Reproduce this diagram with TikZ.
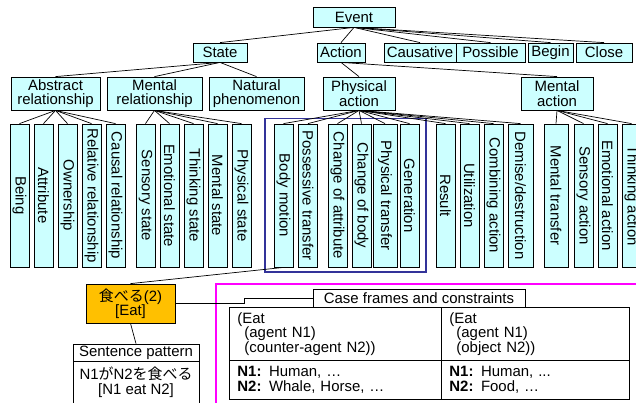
\documentclass[tikz,border=0pt]{standalone}
\usepackage{fontspec}
\setmainfont{Liberation Sans}
\newfontfamily\cjk{Noto Sans CJK JP}
\usepackage{graphicx}
\definecolor{cyanfill}{HTML}{CCFFFF}
\definecolor{orangefill}{HTML}{FFC000}
\definecolor{bluebox}{HTML}{333399}
\definecolor{magentabox}{HTML}{FF00FF}
\newcommand\lbl{\fontsize{15}{14.5}\selectfont\lineskiplimit=-20pt\lineskip=0pt}
\tikzset{
  box/.style={draw, fill=cyanfill, line width=0.8bp, inner sep=0pt, align=center, font=\lbl},
  leaf/.style={draw, fill=cyanfill, line width=0.8bp, inner sep=0pt, minimum height=143bp, minimum width=19bp, font=\lbl},
  link/.style={line width=0.7bp},
  plain/.style={draw, fill=white, line width=0.8bp, inner sep=0pt, font=\lbl},
  cell/.style={draw, line width=0.9bp, inner ysep=0pt, inner xsep=8bp, align=left, anchor=north west, font=\lbl},
}
\begin{document}
\begin{tikzpicture}[x=1bp,y=-1bp]
\fill[white] (0,0) rectangle (636,402);
\useasboundingbox (0,0) rectangle (636,402);

% level 0 and 1
\node[box, minimum width=82bp, minimum height=20bp] (event) at (354,17) {Event};
\node[box, minimum width=54bp, minimum height=19bp] (state) at (220,52.5) {State};
\node[box, minimum width=48bp, minimum height=19bp] (action) at (341,52.5) {Action};
\node[box, minimum width=72bp, minimum height=19bp] (caus) at (420,52.5) {Causative};
\node[box, minimum width=69bp, minimum height=19bp] (poss) at (490.5,52.5) {Possible};
\node[box, minimum width=45bp, minimum height=19bp] (begin) at (550.5,52.5) {Begin};
\node[box, minimum width=56bp, minimum height=19bp] (close) at (604,52.5) {Close};

% level 2
\node[box, minimum width=89bp, minimum height=33bp] (abs) at (55.5,93.5) {Abstract\\relationship};
\node[box, minimum width=95bp, minimum height=33bp] (mrel) at (154.5,93.5) {Mental\\relationship};
\node[box, minimum width=95bp, minimum height=33bp] (nat) at (256.5,93.5) {Natural\\phenomenon};
\node[box, minimum width=72bp, minimum height=33bp] (phys) at (359,93.5) {Physical\\action};
\node[box, minimum width=72bp, minimum height=33bp] (ment) at (557,93.5) {Mental\\action};

% connectors level 0-2
\foreach \c in {state,action,caus,poss,begin,close}
  \draw[link] (event.south) -- (\c.north);
\foreach \c in {abs,mrel,nat}
  \draw[link] (state.south) -- (\c.north);
\foreach \c in {phys,ment}
  \draw[link] (action.south) -- (\c.north);

% blue frame
\draw[bluebox, line width=1.5bp] (265,118.5) rectangle (426,272);

% leaves
\node[leaf] (a1) at (19.5,195.5) {\rotatebox{-90}{Being}};
\node[leaf] (a2) at (43.5,195.5) {\rotatebox{-90}{Attribute}};
\node[leaf] (a3) at (67.5,195.5) {\rotatebox{-90}{Ownership}};
\node[leaf] (a4) at (91.5,195.5) {\rotatebox{-90}{Relative relationship}};
\node[leaf] (a5) at (115.5,195.5) {\rotatebox{-90}{Causal relationship}};
\node[leaf] (b1) at (145.5,195.5) {\rotatebox{-90}{Sensory state}};
\node[leaf] (b2) at (169.5,195.5) {\rotatebox{-90}{Emotional state}};
\node[leaf] (b3) at (193.5,195.5) {\rotatebox{-90}{Thinking state}};
\node[leaf] (b4) at (217.5,195.5) {\rotatebox{-90}{Mental state}};
\node[leaf] (b5) at (241.5,195.5) {\rotatebox{-90}{Physical state}};
\node[leaf] (c1) at (283.5,195.5) {\rotatebox{-90}{Body motion}};
\node[leaf] (c2) at (308,195.5) {\rotatebox{-90}{Possessive transfer}};
\node[leaf] (c3) at (337.5,195.5) {\rotatebox{-90}{Change of attribute}};
\node[leaf] (c4) at (361.5,195.5) {\rotatebox{-90}{Change of body}};
\node[leaf, minimum width=24bp] (c5) at (385,195.5) {\rotatebox{-90}{Physical transfer}};
\node[leaf] (c6) at (409.5,195.5) {\rotatebox{-90}{Generation}};
\node[leaf] (c7) at (445.5,195.5) {\rotatebox{-90}{Result}};
\node[leaf] (c8) at (469.5,195.5) {\rotatebox{-90}{Utilization}};
\node[leaf] (c9) at (493.5,195.5) {\rotatebox{-90}{Combining action}};
\node[leaf, minimum width=25bp] (c10) at (520.5,195.5) {\rotatebox{-90}{Demise/destruction}};
\node[leaf, minimum width=24bp] (d1) at (556,195.5) {\rotatebox{-90}{Mental transfer}};
\node[leaf] (d2) at (583.5,195.5) {\rotatebox{-90}{Sensory action}};
\node[leaf] (d3) at (607.5,195.5) {\rotatebox{-90}{Emotional action}};
\node[leaf] (d4) at (631.5,195.5) {\rotatebox{-90}{Thinking action}};

\foreach \c in {a1,a2,a3,a4,a5}
  \draw[link] (abs.south) -- (\c.north);
\foreach \c in {b1,b2,b3,b4,b5}
  \draw[link] (mrel.south) -- (\c.north);
\foreach \c in {c1,c2,c3,c4,c5,c6,c7,c8,c9,c10}
  \draw[link] (phys.south) -- (\c.north);
\foreach \c in {d1,d2,d3,d4}
  \draw[link] (ment.south) -- (\c.north);

% lower part
\draw[magentabox, line width=1.5bp] (216,284) rectangle (650,420);

\node[draw, fill=orangefill, line width=0.8bp, inner sep=0pt, align=center, font=\lbl,
      minimum width=89bp, minimum height=39bp] (eat) at (130.5,303.5)
      {{\cjk 食べる}(2)\\{[Eat]}};
\draw[link] (c1.south) -- (eat.north);

\node[plain, minimum width=126bp, minimum height=17bp] (sp) at (136,352.5) {Sentence pattern};
\node[draw, line width=0.8bp, inner sep=0pt, minimum width=126bp, minimum height=50bp, anchor=north] (spbody) at (sp.south) {};
\node[inner sep=0pt, align=center, font=\lbl] (sptext) at (136,382) {N1{\cjk が}N2{\cjk を食べる}\\{[N1 eat N2]}};
\draw[link] (eat.south) -- (sp.north);

\node[plain, minimum width=212bp, minimum height=18bp] (cf) at (419,298) {Case frames and constraints};
\coordinate (bend1) at (244,303.5);
\coordinate (bend2) at (244,298);
\draw[link] (eat.east) -- (bend1) -- (bend2) -- (cf.west);

\node[cell, text width=196bp, minimum height=53bp] (t11) at (229,307)
  {(Eat\\\hspace*{7bp}(agent N1)\\\hspace*{7bp}(counter-agent N2))};
\node[cell, text width=172bp, minimum height=53bp] (t12) at (441,307)
  {(Eat\\\hspace*{7bp}(agent N1)\\\hspace*{7bp}(object N2))};
\node[cell, text width=196bp, minimum height=39bp] (t21) at (229,360)
  {\textbf{N1:} Human, …\\\textbf{N2:} Whale, Horse, …};
\node[cell, text width=172bp, minimum height=39bp] (t22) at (441,360)
  {\textbf{N1:} Human, ...\\\textbf{N2:} Food, …};
\end{tikzpicture}
\end{document}
